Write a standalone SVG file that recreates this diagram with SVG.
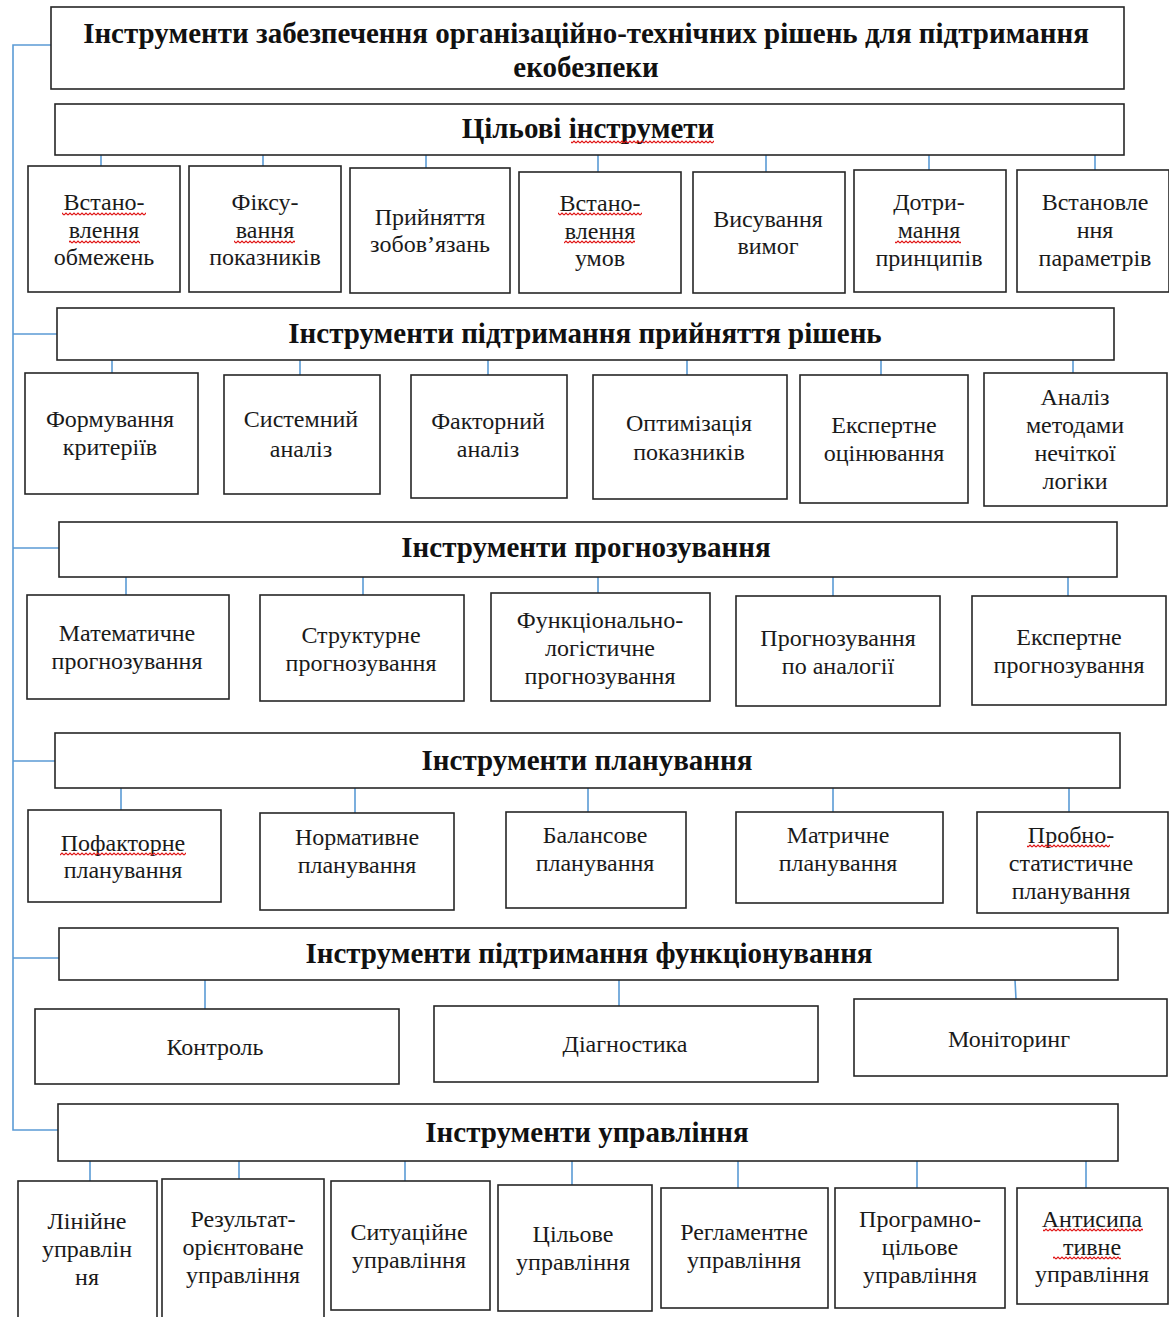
<svg xmlns="http://www.w3.org/2000/svg" width="1169" height="1317" viewBox="0 0 1169 1317">
<style>
.box{fill:#fff;stroke:#262626;stroke-width:1.6}
.hd{font-family:"Liberation Serif","Times New Roman",serif;font-weight:bold;font-size:29px;text-anchor:middle;fill:#111}
.tx{font-family:"Liberation Serif","Times New Roman",serif;font-size:24px;text-anchor:middle;fill:#1a1a1a}
.cn{stroke:#5B9BD5;stroke-width:1.6;fill:none}
.sq{fill:url(#squig)}
</style>
<defs>
<pattern id="squig" width="4" height="4" patternUnits="userSpaceOnUse">
<path d="M0 3 L2 1 L4 3" stroke="#e01010" stroke-width="1.1" fill="none"/>
</pattern>
</defs>
<rect width="1169" height="1317" fill="#fff"/>

<g id="connectors">
<path class="cn" d="M51 45 H13 V1130 H62 M13 334 H57 M13 548 H59 M13 761 H55 M13 958 H62"/>
<path class="cn" d="M101 155 V166 M263 155 V166 M426 155 V168 M598 155 V172 M766 155 V172 M929 155 V170 M1095 155 V170"/>
<path class="cn" d="M112 360 V373 M300 360 V375 M488 360 V375 M687 360 V375 M881 360 V375 M1073 360 V373"/>
<path class="cn" d="M126 577 V595 M363 577 V595 M598 577 V593 M833 577 V596 M1068 577 V596"/>
<path class="cn" d="M121 788 V810 M355 788 V813 M588 788 V812 M833 788 V812 M1069 788 V812"/>
<path class="cn" d="M205 980 V1009 M619 980 V1006 M1015 980 L1016 999"/>
<path class="cn" d="M90 1161 V1181 M239 1161 V1179 M405 1161 V1181 M572 1161 V1185 M738 1161 V1188 M917 1161 V1188 M1086 1161 V1188"/>
</g>

<g id="root">
<rect class="box" x="51" y="7" width="1073" height="82"/>
<text class="hd"><tspan x="586" y="43">Інструменти забезпечення організаційно-технічних рішень для підтримання</tspan><tspan x="586" y="77">екобезпеки</tspan></text>
</g>

<g id="t-goal">
<rect class="box" x="55" y="104" width="1069" height="51"/>
<text class="hd" x="588" y="138">Цільові інструмети</text>
<rect class="sq" x="571" y="140" width="143" height="4"/>
</g>
<g id="g1"><rect class="box" x="28" y="166" width="152" height="126"/>
<text class="tx"><tspan x="104" y="210">Встано-</tspan><tspan x="104" y="238">влення</tspan><tspan x="104" y="265">обмежень</tspan></text>
<rect class="sq" x="62" y="212" width="84" height="4"/><rect class="sq" x="69" y="240" width="71" height="4"/></g>
<g id="g2"><rect class="box" x="189" y="166" width="152" height="126"/>
<text class="tx"><tspan x="265" y="210">Фіксу-</tspan><tspan x="265" y="238">вання</tspan><tspan x="265" y="265">показників</tspan></text>
<rect class="sq" x="234" y="240" width="61" height="4"/></g>
<g id="g3"><rect class="box" x="350" y="168" width="160" height="125"/>
<text class="tx"><tspan x="430" y="225">Прийняття</tspan><tspan x="430" y="252">зобов’язань</tspan></text></g>
<g id="g4"><rect class="box" x="519" y="172" width="162" height="121"/>
<text class="tx"><tspan x="600" y="211">Встано-</tspan><tspan x="600" y="239">влення</tspan><tspan x="600" y="266">умов</tspan></text>
<rect class="sq" x="558" y="212" width="84" height="4"/><rect class="sq" x="564" y="240" width="71" height="4"/></g>
<g id="g5"><rect class="box" x="693" y="172" width="152" height="121"/>
<text class="tx"><tspan x="768" y="227">Висування</tspan><tspan x="768" y="254">вимог</tspan></text></g>
<g id="g6"><rect class="box" x="854" y="170" width="152" height="122"/>
<text class="tx"><tspan x="929" y="210">Дотри-</tspan><tspan x="929" y="238">мання</tspan><tspan x="929" y="266">принципів</tspan></text>
<rect class="sq" x="895" y="240" width="66" height="4"/></g>
<g id="g7"><rect class="box" x="1017" y="170" width="152" height="122"/>
<text class="tx"><tspan x="1095" y="210">Встановле</tspan><tspan x="1095" y="238">ння</tspan><tspan x="1095" y="266">параметрів</tspan></text></g>

<g id="t-decision">
<rect class="box" x="57" y="308" width="1057" height="52"/>
<text class="hd" x="585" y="343">Інструменти підтримання прийняття рішень</text>
</g>
<g id="d1"><rect class="box" x="25" y="373" width="173" height="121"/>
<text class="tx"><tspan x="110" y="427">Формування</tspan><tspan x="110" y="455">критеріїв</tspan></text></g>
<g id="d2"><rect class="box" x="224" y="375" width="156" height="119"/>
<text class="tx"><tspan x="301" y="427">Системний</tspan><tspan x="301" y="457">аналіз</tspan></text></g>
<g id="d3"><rect class="box" x="411" y="375" width="156" height="123"/>
<text class="tx"><tspan x="488" y="429">Факторний</tspan><tspan x="488" y="457">аналіз</tspan></text></g>
<g id="d4"><rect class="box" x="593" y="375" width="194" height="124"/>
<text class="tx"><tspan x="689" y="431">Оптимізація</tspan><tspan x="689" y="460">показників</tspan></text></g>
<g id="d5"><rect class="box" x="800" y="375" width="168" height="128"/>
<text class="tx"><tspan x="884" y="433">Експертне</tspan><tspan x="884" y="461">оцінювання</tspan></text></g>
<g id="d6"><rect class="box" x="984" y="373" width="183" height="133"/>
<text class="tx"><tspan x="1075" y="405">Аналіз</tspan><tspan x="1075" y="433">методами</tspan><tspan x="1075" y="461">нечіткої</tspan><tspan x="1075" y="489">логіки</tspan></text></g>

<g id="t-forecast">
<rect class="box" x="59" y="522" width="1058" height="55"/>
<text class="hd" x="586" y="557">Інструменти прогнозування</text>
</g>
<g id="f1"><rect class="box" x="27" y="595" width="202" height="104"/>
<text class="tx"><tspan x="127" y="641">Математичне</tspan><tspan x="127" y="669">прогнозування</tspan></text></g>
<g id="f2"><rect class="box" x="260" y="595" width="204" height="106"/>
<text class="tx"><tspan x="361" y="643">Структурне</tspan><tspan x="361" y="671">прогнозування</tspan></text></g>
<g id="f3"><rect class="box" x="491" y="593" width="219" height="108"/>
<text class="tx"><tspan x="600" y="628">Функціонально-</tspan><tspan x="600" y="656">логістичне</tspan><tspan x="600" y="684">прогнозування</tspan></text></g>
<g id="f4"><rect class="box" x="736" y="596" width="204" height="110"/>
<text class="tx"><tspan x="838" y="646">Прогнозування</tspan><tspan x="838" y="674">по аналогії</tspan></text></g>
<g id="f5"><rect class="box" x="972" y="596" width="194" height="109"/>
<text class="tx"><tspan x="1069" y="645">Експертне</tspan><tspan x="1069" y="673">прогнозування</tspan></text></g>

<g id="t-plan">
<rect class="box" x="55" y="733" width="1065" height="55"/>
<text class="hd" x="587" y="770">Інструменти планування</text>
</g>
<g id="p1"><rect class="box" x="28" y="810" width="193" height="92"/>
<text class="tx"><tspan x="123" y="851">Пофакторне</tspan><tspan x="123" y="878">планування</tspan></text>
<rect class="sq" x="60" y="852" width="126" height="4"/></g>
<g id="p2"><rect class="box" x="260" y="813" width="194" height="97"/>
<text class="tx"><tspan x="357" y="845">Нормативне</tspan><tspan x="357" y="873">планування</tspan></text></g>
<g id="p3"><rect class="box" x="506" y="812" width="180" height="96"/>
<text class="tx"><tspan x="595" y="843">Балансове</tspan><tspan x="595" y="871">планування</tspan></text></g>
<g id="p4"><rect class="box" x="736" y="812" width="207" height="91"/>
<text class="tx"><tspan x="838" y="843">Матричне</tspan><tspan x="838" y="871">планування</tspan></text></g>
<g id="p5"><rect class="box" x="977" y="812" width="191" height="101"/>
<text class="tx"><tspan x="1071" y="843">Пробно-</tspan><tspan x="1071" y="871">статистичне</tspan><tspan x="1071" y="899">планування</tspan></text>
<rect class="sq" x="1027" y="844" width="83" height="4"/></g>

<g id="t-func">
<rect class="box" x="59" y="928" width="1059" height="52"/>
<text class="hd" x="589" y="963">Інструменти підтримання функціонування</text>
</g>
<g id="k1"><rect class="box" x="35" y="1009" width="364" height="75"/>
<text class="tx" x="215" y="1055">Контроль</text></g>
<g id="k2"><rect class="box" x="434" y="1006" width="384" height="76"/>
<text class="tx" x="625" y="1052">Діагностика</text></g>
<g id="k3"><rect class="box" x="854" y="999" width="313" height="77"/>
<text class="tx" x="1009" y="1047">Моніторинг</text></g>

<g id="t-mgmt">
<rect class="box" x="58" y="1104" width="1060" height="57"/>
<text class="hd" x="587" y="1142">Інструменти управління</text>
</g>
<g id="m1"><rect class="box" x="18" y="1181" width="139" height="145"/>
<text class="tx"><tspan x="87" y="1229">Лінійне</tspan><tspan x="87" y="1257">управлін</tspan><tspan x="87" y="1285">ня</tspan></text></g>
<g id="m2"><rect class="box" x="162" y="1179" width="162" height="147"/>
<text class="tx"><tspan x="243" y="1227">Результат-</tspan><tspan x="243" y="1255">орієнтоване</tspan><tspan x="243" y="1283">управління</tspan></text></g>
<g id="m3"><rect class="box" x="331" y="1181" width="159" height="129"/>
<text class="tx"><tspan x="409" y="1240">Ситуаційне</tspan><tspan x="409" y="1268">управління</tspan></text></g>
<g id="m4"><rect class="box" x="498" y="1185" width="154" height="126"/>
<text class="tx"><tspan x="573" y="1242">Цільове</tspan><tspan x="573" y="1270">управління</tspan></text></g>
<g id="m5"><rect class="box" x="661" y="1188" width="167" height="120"/>
<text class="tx"><tspan x="744" y="1240">Регламентне</tspan><tspan x="744" y="1268">управління</tspan></text></g>
<g id="m6"><rect class="box" x="835" y="1188" width="170" height="120"/>
<text class="tx"><tspan x="920" y="1227">Програмно-</tspan><tspan x="920" y="1255">цільове</tspan><tspan x="920" y="1283">управління</tspan></text></g>
<g id="m7"><rect class="box" x="1017" y="1188" width="151" height="116"/>
<text class="tx"><tspan x="1092" y="1227">Антисипа</tspan><tspan x="1092" y="1255">тивне</tspan><tspan x="1092" y="1282">управління</tspan></text>
<rect class="sq" x="1043" y="1228" width="100" height="4"/><rect class="sq" x="1053" y="1256" width="68" height="4"/></g>
</svg>
